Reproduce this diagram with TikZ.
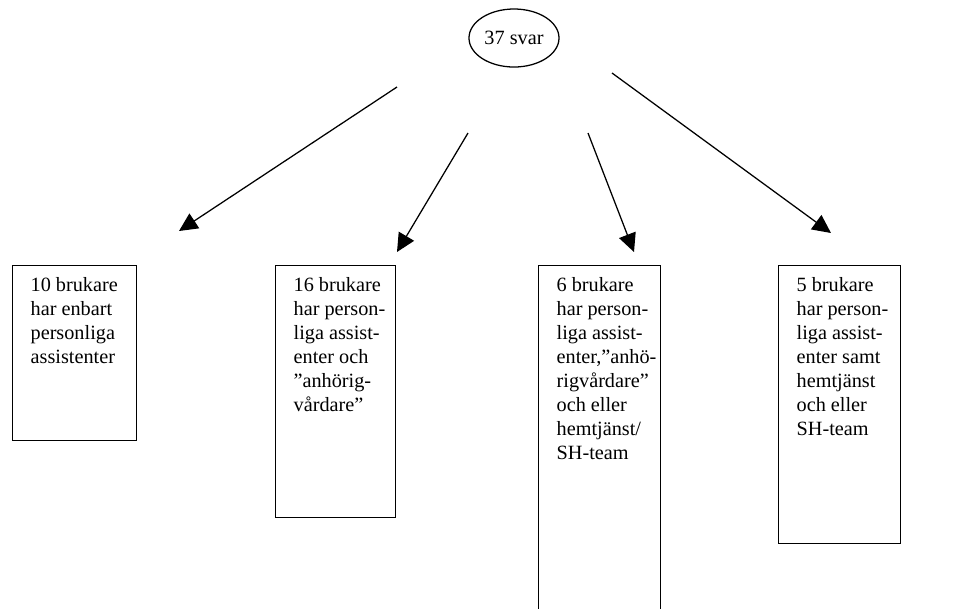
\documentclass[tikz,border=0pt]{standalone}
\usepackage{fontspec}
\setmainfont{Liberation Serif}
\usetikzlibrary{shapes.geometric,arrows.meta}

\tikzset{
  answer/.style={draw, line width=0.9pt, anchor=north west, inner xsep=0.45cm, inner ysep=0.22cm},
  total/.style={draw, ellipse, line width=0.9pt, minimum width=2.25cm, minimum height=1.45cm, inner sep=0pt},
  arr/.style={line width=0.9pt, -{Triangle[length=0.46cm,width=0.44cm]}}
}
\newcommand{\boxlines}[3]{\parbox[t][#1][t]{#2}{\begin{tabular}[t]{@{}l@{}}#3\end{tabular}}}

\begin{document}
\begin{tikzpicture}[x=0.025cm, y=-0.025cm, font=\fontsize{14.4}{17.1}\selectfont]
  \useasboundingbox (0,0) rectangle (960,608);

  \node[total] (svar) at (514,38) {37 svar};

  \node[answer] (b1) at (12,265) {\boxlines{3.935cm}{2.2cm}{10 brukare\\har enbart\\personliga\\assistenter}};
  \node[answer] (b2) at (275,265) {\boxlines{5.86cm}{2.1cm}{16 brukare\\har person-\\liga assist-\\enter och\\”anhörig-\\vårdare”}};
  \node[answer] (b3) at (538,265) {\boxlines{8.31cm}{2.15cm}{6 brukare\\har person-\\liga assist-\\enter,”anhö-\\rigvårdare”\\och eller\\hemtjänst/\\SH-team}};
  \node[answer] (b4) at (778,265) {\boxlines{6.51cm}{2.15cm}{5 brukare\\har person-\\liga assist-\\enter samt\\hemtjänst\\och eller\\SH-team}};

  % free ends of the arrows
  \coordinate (s1) at (397,87);  \coordinate (t1) at (179,231);
  \coordinate (s2) at (468,133); \coordinate (t2) at (397,252);
  \coordinate (s3) at (588,133); \coordinate (t3) at (634,252);
  \coordinate (s4) at (612,73);  \coordinate (t4) at (831,233);

  \draw[arr] (s1) -- (t1);
  \draw[arr] (s2) -- (t2);
  \draw[arr] (s3) -- (t3);
  \draw[arr] (s4) -- (t4);
\end{tikzpicture}
\end{document}
